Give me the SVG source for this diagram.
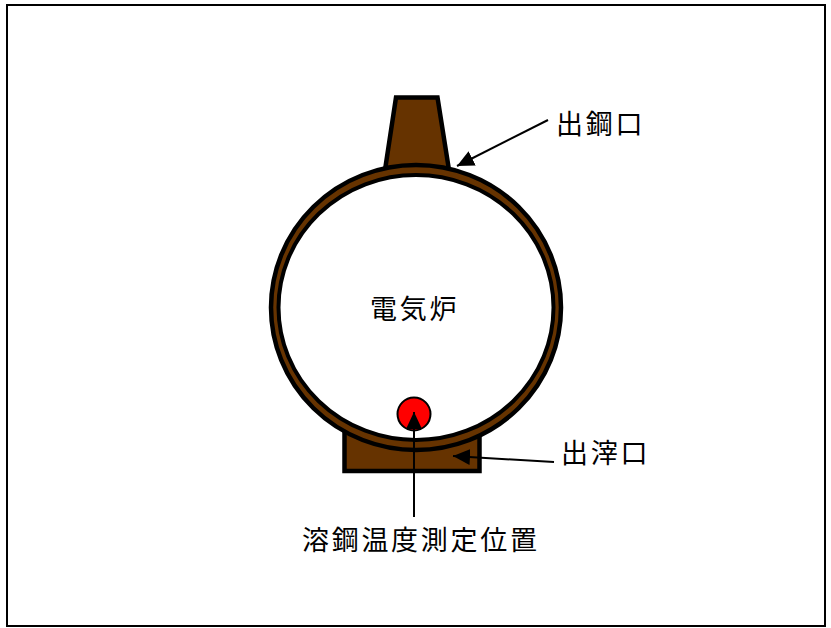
<svg xmlns="http://www.w3.org/2000/svg" width="831" height="628" viewBox="0 0 831 628">
<style>
.s{stroke:#000;stroke-width:4.500;fill:#663300}
.t{font-family:"Noto Sans CJK JP","Noto Sans CJK SC",sans-serif;font-size:27px;letter-spacing:2.700px;fill:#000}
.l{stroke:#000;stroke-width:2;fill:none}
</style>
<defs><marker id="a" markerUnits="userSpaceOnUse" markerWidth="18" markerHeight="16" refX="17" refY="8" orient="auto"><path d="M0 0L17 8L0 16Z" fill="#000"/></marker></defs>
<rect x="7" y="5" width="818" height="621" fill="#fff" stroke="#000" stroke-width="2"/>
<g id="spout"><path class="s" d="M396 97.500H437.500L449 170H385Z"/></g>
<g id="slag"><rect class="s" x="344.500" y="425" width="135" height="46"/></g>
<g id="furnace"><ellipse class="s" cx="416" cy="307.500" rx="145" ry="142.500"/><ellipse cx="416" cy="307.500" rx="137.500" ry="132.500" fill="#fff" stroke="#000" stroke-width="4"/><text class="t" x="370" y="319">電気炉</text></g>
<g id="point"><circle cx="414" cy="414" r="16.500" fill="#f00" stroke="#000" stroke-width="2"/></g>
<g id="connectors">
<path class="l" d="M548 120L457 166" marker-end="url(#a)"/>
<path class="l" d="M554 462L453 456" marker-end="url(#a)"/>
<path class="l" d="M414 517V412" marker-end="url(#a)"/>
</g>
<text class="t" x="556" y="134">出鋼口</text>
<text class="t" x="561" y="463">出滓口</text>
<text class="t" x="302" y="550">溶鋼温度測定位置</text>
</svg>
